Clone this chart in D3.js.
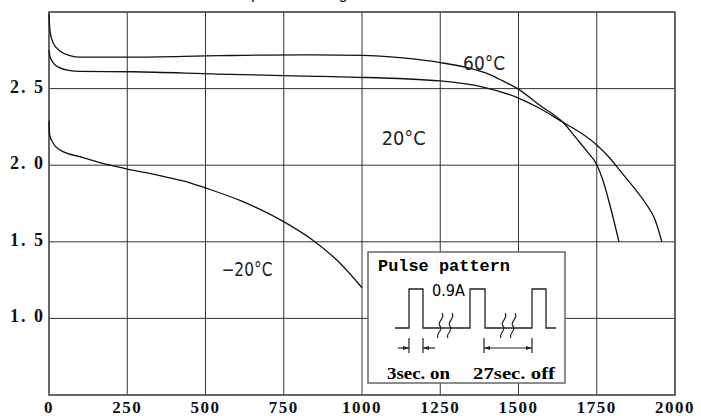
<!DOCTYPE html>
<html lang="en">
<head>
<meta charset="UTF-8">
<title>Pulse discharge temperature characteristics</title>
<script src="https://d3js.org/d3.v7.min.js"></script>
<style>
    body { margin: 0; background: #fff; }
    .tick-label { font-family: "Liberation Serif", serif; font-weight: bold; font-size: 17px; fill: #111; }
    .temp-label { font-family: "DejaVu Sans Condensed", "DejaVu Sans", sans-serif; font-weight: 200; font-size: 19px; fill: #222; }
    .grid line { stroke: #333; stroke-width: 1; }
    .curve { fill: none; stroke: #111; stroke-width: 1.3; }
</style>
</head>
<body>
<svg id="chart" width="701" height="416"></svg>
<script>
// axis ticks
const xTicks = [0, 250, 500, 750, 1000, 1250, 1500, 1750, 2000];
const yTicks = [1.0, 1.5, 2.0, 2.5];
const yGrid = [0.5, 1.0, 1.5, 2.0, 2.5, 3.0];

// curves: [capacity, voltage]
const temps = ["60°C", "20°C", "-20°C"];
const curve60 = [[0, 2.99], [3, 2.88], [13, 2.80], [35, 2.745], [67, 2.715], [99, 2.705], [259, 2.705],
    [546, 2.715], [800, 2.72], [1000, 2.717], [1130, 2.70], [1250, 2.67], [1330, 2.64], [1410, 2.59],
    [1450, 2.55], [1497, 2.50], [1569, 2.39], [1642, 2.28], [1687, 2.17], [1719, 2.09], [1751, 2.0],
    [1770, 1.90], [1792, 1.74], [1821, 1.5]];
const curve20 = [[0, 2.75], [3, 2.71], [13, 2.67], [35, 2.635], [67, 2.618], [99, 2.613], [268, 2.61],
    [537, 2.595], [856, 2.58], [962, 2.575], [1250, 2.55], [1387, 2.51], [1498, 2.44], [1569, 2.37],
    [1642, 2.28], [1700, 2.21], [1751, 2.13], [1790, 2.05], [1830, 1.95], [1870, 1.85], [1905, 1.755],
    [1935, 1.65], [1958, 1.5]];
const curveM20 = [[0, 2.29], [2, 2.20], [13, 2.145], [35, 2.10], [109, 2.05], [195, 2.0], [250, 1.975],
    [325, 1.945], [400, 1.91], [450, 1.885], [502, 1.85], [610, 1.77], [751, 1.63], [843, 1.51],
    [930, 1.36], [1000, 1.20]];

const svg = d3.select("#chart");
const pLeft = 49, pRight = 675, pTop = 12, pBottom = 395;

const x = d3.scaleLinear().domain([0, 2000]).range([pLeft, pRight]);
const y = d3.scaleLinear().domain([0.5, 3.0]).range([pBottom, pTop]);

// title cut off by the top edge, only its descenders show
svg.append("text")
    .attr("x", 223).attr("y", -1)
    .style("font-family", "Arial, sans-serif").style("font-size", "15px")
    .text("Temperature Range");

// grid
const grid = svg.append("g").attr("class", "grid");
grid.selectAll(".v").data(xTicks).enter().append("line")
    .attr("x1", d => x(d)).attr("x2", d => x(d))
    .attr("y1", pTop).attr("y2", pBottom);
grid.selectAll(".h").data(yGrid).enter().append("line")
    .attr("x1", pLeft).attr("x2", pRight)
    .attr("y1", d => y(d)).attr("y2", d => y(d));

// border
svg.append("rect")
    .attr("x", pLeft).attr("y", pTop)
    .attr("width", pRight - pLeft).attr("height", pBottom - pTop)
    .attr("fill", "none").attr("stroke", "#555").attr("stroke-width", 1.5);

// tick labels
svg.selectAll(".xl").data(xTicks).enter().append("text")
    .attr("class", "tick-label")
    .attr("x", d => x(d)).attr("y", 413)
    .attr("text-anchor", "middle")
    .style("letter-spacing", "1.5px")
    .text(d => d);
svg.selectAll(".yl").data(yTicks).enter().append("text")
    .attr("class", "tick-label")
    .attr("x", 45).attr("y", d => y(d) + 4)
    .attr("text-anchor", "end")
    .style("white-space", "pre")
    .style("font-size", "18px")
    .style("letter-spacing", "2px")
    .text(d => d3.format(".1f")(d).replace(".", ". "));

// curves
const line = d3.line().x(d => x(d[0])).y(d => y(d[1])).curve(d3.curveMonotoneX);
[curve60, curve20, curveM20].forEach(c => {
    svg.append("path").attr("class", "curve").attr("d", line(c));
});

// temperature labels
const labelPos = [[1323, 2.62, 42], [1063, 2.13, 44], [551, 1.28, 51]];
temps.forEach((t, i) => {
    svg.append("text").attr("class", "temp-label")
        .attr("x", x(labelPos[i][0])).attr("y", y(labelPos[i][1]))
        .attr("textLength", labelPos[i][2]).attr("lengthAdjust", "spacingAndGlyphs")
        .text(t.replace("-", "\u2212"));
});

// pulse pattern box
const box = svg.append("g").attr("transform", "translate(368,252)");
box.append("rect").attr("width", 197).attr("height", 131)
    .attr("fill", "#fff").attr("stroke", "#666").attr("stroke-width", 1.5);
box.append("text").attr("x", 10).attr("y", 19)
    .style("font-family", "'Liberation Mono', monospace").style("font-weight", "bold")
    .style("font-size", "17px").attr("textLength", 132).attr("lengthAdjust", "spacingAndGlyphs")
    .text("Pulse pattern");

const lo = 76, hi = 37;
box.append("path")
    .attr("d", `M27,${lo}H41V${hi}H55V${lo}H102V${hi}H117V${lo}H164V${hi}H178V${lo}H188`)
    .attr("fill", "none").attr("stroke", "#222").attr("stroke-width", 1.3);

[72, 82, 135, 145].forEach(sx => {
    box.append("path")
        .attr("d", `M${sx + 2},61 C${sx + 6},66 ${sx - 4},70 ${sx},74 C${sx + 4},78 ${sx - 5},82 ${sx - 2},86`)
        .attr("fill", "none").attr("stroke", "#222").attr("stroke-width", 1.2);
});

box.append("text").attr("x", 64).attr("y", 44)
    .style("font-family", "'DejaVu Sans Condensed', sans-serif").style("font-weight", "200")
    .style("font-size", "15px").attr("textLength", 33).attr("lengthAdjust", "spacingAndGlyphs")
    .text("0.9A");

// dimension marks
const dim = box.append("g").attr("stroke", "#222").attr("stroke-width", 1.2).attr("fill", "#222");
[41, 55, 116, 164].forEach(dx => {
    dim.append("line").attr("x1", dx).attr("x2", dx).attr("y1", 86).attr("y2", 101);
});
dim.append("line").attr("x1", 30).attr("x2", 41).attr("y1", 96).attr("y2", 96);
dim.append("line").attr("x1", 55).attr("x2", 67).attr("y1", 96).attr("y2", 96);
dim.append("line").attr("x1", 116).attr("x2", 164).attr("y1", 96).attr("y2", 96);
const arrows = [[41, -1], [55, 1], [116, 1], [164, -1]];
arrows.forEach(([ax, dir]) => {
    dim.append("path").attr("stroke", "none")
        .attr("d", `M${ax},96 L${ax + dir * 6},94 L${ax + dir * 6},98 Z`);
});

box.selectAll(".dl").data([["3sec. on", 19, 63], ["27sec. off", 105, 82]]).enter().append("text")
    .attr("x", d => d[1]).attr("y", 127)
    .attr("textLength", d => d[2]).attr("lengthAdjust", "spacingAndGlyphs")
    .style("font-family", "'Liberation Serif', serif").style("font-weight", "bold")
    .style("font-size", "17px")
    .text(d => d[0]);
</script>
</body>
</html>
